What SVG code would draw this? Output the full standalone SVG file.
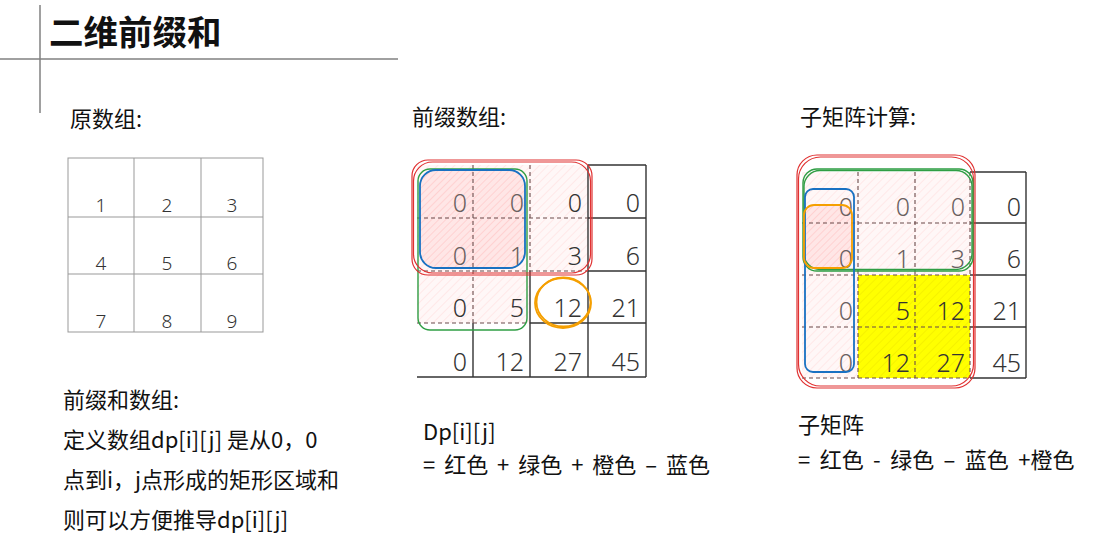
<svg xmlns="http://www.w3.org/2000/svg" width="1120" height="542" viewBox="0 0 1120 542">
<defs>
<pattern id="hatch" width="6" height="6" patternUnits="userSpaceOnUse" patternTransform="rotate(45)">
<rect width="6" height="6" fill="#fff7f7"/>
<line x1="0" y1="0" x2="0" y2="6" stroke="#ffdcdc" stroke-width="1.1"/>
</pattern>
<pattern id="hatch2" width="5" height="5" patternUnits="userSpaceOnUse" patternTransform="rotate(45)">
<rect width="5" height="5" fill="#ffe6e6"/>
<line x1="0" y1="0" x2="0" y2="5" stroke="#ffc9c9" stroke-width="1.4"/>
</pattern>
<pattern id="yhatch" width="6" height="6" patternUnits="userSpaceOnUse" patternTransform="rotate(45)">
<rect width="6" height="6" fill="#ffff00"/>
<line x1="0" y1="0" x2="0" y2="6" stroke="#f0ea00" stroke-width="1.2"/>
</pattern>
</defs>
<style>
.cjk{font-family:"Noto Sans CJK SC","Noto Sans",sans-serif;fill:#111;}
.lbl{font-size:22px;}
.num{font-family:"Noto Sans","Liberation Sans",sans-serif;font-size:25px;font-weight:300;fill:#333;text-anchor:end;}
.dim{fill:#6a5f5f;}
.onum{font-family:"Noto Sans","Liberation Sans",sans-serif;font-size:19px;font-weight:300;fill:#333;text-anchor:middle;}
.g{stroke:#333;stroke-width:1.4;fill:none;}
.d{stroke:#6b4a4a;stroke-width:1.1;stroke-dasharray:4 3;fill:none;}
.og{stroke:#999;stroke-width:1;fill:none;}
.red{stroke:#e03131;stroke-width:1.2;fill:none;}
.grn{stroke:#2f9e44;stroke-width:1.4;fill:none;}
.blu{stroke:#1971c2;stroke-width:1.8;fill:none;}
.org{stroke:#f59f00;stroke-width:1.8;fill:none;}
</style>
<rect width="1120" height="542" fill="#ffffff"/>

<g id="title">
<line x1="0" y1="59" x2="398" y2="59" stroke="#808080" stroke-width="1.5"/>
<line x1="40" y1="5" x2="40" y2="113" stroke="#808080" stroke-width="1.5"/>
<text class="cjk" x="49" y="45" font-size="34.5" font-weight="700">二维前缀和</text>
</g>

<g id="original">
<text class="cjk lbl" x="70" y="127">原数组:</text>
<g class="og">
<rect x="68" y="158" width="195" height="174"/>
<line x1="134" y1="158" x2="134" y2="332"/>
<line x1="201" y1="158" x2="201" y2="332"/>
<line x1="68" y1="217" x2="263" y2="217"/>
<line x1="68" y1="274" x2="263" y2="274"/>
</g>
<text class="onum" x="101" y="212">1</text>
<text class="onum" x="167" y="212">2</text>
<text class="onum" x="232" y="212">3</text>
<text class="onum" x="101" y="270">4</text>
<text class="onum" x="167" y="270">5</text>
<text class="onum" x="232" y="270">6</text>
<text class="onum" x="101" y="328">7</text>
<text class="onum" x="167" y="328">8</text>
<text class="onum" x="232" y="328">9</text>
</g>

<g id="prefix">
<text class="cjk lbl" x="412" y="125">前缀数组:</text>
<path d="M417 165H588V271H530V323H417Z" fill="url(#hatch)"/>
<rect x="420" y="170" width="105" height="98" rx="16" fill="url(#hatch2)"/>
<g class="g">
<line x1="588" y1="165" x2="646" y2="165"/>
<line x1="646" y1="165" x2="646" y2="377"/>
<line x1="417" y1="377" x2="646" y2="377"/>
<line x1="588" y1="165" x2="588" y2="377"/>
<line x1="588" y1="218" x2="646" y2="218"/>
<line x1="588" y1="271" x2="646" y2="271"/>
<line x1="530" y1="323" x2="646" y2="323"/>
<line x1="473" y1="323" x2="473" y2="377"/>
<line x1="530" y1="271" x2="530" y2="377"/>
</g>
<g class="d">
<line x1="473" y1="165" x2="473" y2="323"/>
<line x1="530" y1="165" x2="530" y2="271"/>
<line x1="417" y1="218" x2="588" y2="218"/>
<line x1="417" y1="271" x2="588" y2="271"/>
<line x1="417" y1="323" x2="530" y2="323"/>
</g>
<text class="num dim" x="467" y="212">0</text>
<text class="num dim" x="524" y="212">0</text>
<text class="num" x="582" y="212">0</text>
<text class="num" x="640" y="212">0</text>
<text class="num dim" x="467" y="265">0</text>
<text class="num dim" x="524" y="265">1</text>
<text class="num" x="582" y="265">3</text>
<text class="num" x="640" y="265">6</text>
<text class="num" x="467" y="317">0</text>
<text class="num" x="524" y="317">5</text>
<text class="num" x="582" y="317">12</text>
<text class="num" x="640" y="317">21</text>
<text class="num" x="467" y="371">0</text>
<text class="num" x="524" y="371">12</text>
<text class="num" x="582" y="371">27</text>
<text class="num" x="640" y="371">45</text>
<rect class="grn" x="418" y="169" width="109" height="161" rx="12"/>
<rect class="red" x="412" y="160" width="180" height="115" rx="16"/>
<rect class="red" x="413.5" y="162" width="177" height="111" rx="19"/>
<rect class="blu" x="420" y="170" width="105" height="98" rx="16"/>
<ellipse class="org" cx="563" cy="303" rx="28" ry="25"/>
<ellipse class="org" cx="563.5" cy="302" rx="27" ry="24.5" stroke-width="1"/>
</g>

<g id="submatrix">
<text class="cjk lbl" x="800" y="125">子矩阵计算:</text>
<path d="M802 172H970V275H858V378H802Z" fill="url(#hatch)"/>
<rect x="858" y="275" width="112" height="103" fill="url(#yhatch)"/>
<rect x="804" y="205" width="48" height="63" rx="10" fill="url(#hatch2)"/>
<g class="g">
<line x1="970" y1="172" x2="1026" y2="172"/>
<line x1="1026" y1="172" x2="1026" y2="378"/>
<line x1="970" y1="378" x2="1026" y2="378"/>
<line x1="970" y1="223" x2="1026" y2="223"/>
<line x1="970" y1="275" x2="1026" y2="275"/>
<line x1="970" y1="327" x2="1026" y2="327"/>
</g>
<g class="d">
<line x1="970" y1="172" x2="970" y2="378"/>
<line x1="858" y1="172" x2="858" y2="378"/>
<line x1="915" y1="172" x2="915" y2="378"/>
<line x1="802" y1="223" x2="970" y2="223"/>
<line x1="802" y1="275" x2="970" y2="275"/>
<line x1="802" y1="327" x2="970" y2="327"/>
<line x1="802" y1="378" x2="970" y2="378"/>
</g>
<text class="num dim" x="853" y="216">0</text>
<text class="num dim" x="910" y="216">0</text>
<text class="num dim" x="965" y="216">0</text>
<text class="num" x="1021" y="216">0</text>
<text class="num dim" x="853" y="268">0</text>
<text class="num dim" x="910" y="268">1</text>
<text class="num dim" x="965" y="268">3</text>
<text class="num" x="1021" y="268">6</text>
<text class="num dim" x="853" y="320">0</text>
<text class="num" x="910" y="320">5</text>
<text class="num" x="965" y="320">12</text>
<text class="num" x="1021" y="320">21</text>
<text class="num dim" x="853" y="372">0</text>
<text class="num" x="910" y="372">12</text>
<text class="num" x="965" y="372">27</text>
<text class="num" x="1021" y="372">45</text>
<rect class="red" x="797" y="155" width="178" height="233" rx="20"/>
<rect class="red" x="798.5" y="157" width="175" height="229" rx="22"/>
<rect class="grn" x="803" y="169" width="170" height="102" rx="14"/>
<rect class="grn" x="804" y="170.5" width="168" height="99" rx="16" stroke-width="1"/>
<rect class="blu" x="805" y="189" width="49" height="183" rx="8" stroke-width="1.5"/>
<rect class="org" x="804" y="205" width="48" height="63" rx="10" stroke-width="2.2"/>
</g>

<g id="notes">
<text class="cjk lbl" x="63" y="408">前缀和数组:</text>
<text class="cjk lbl" x="63" y="448">定义数组dp[i][j] 是从0，0</text>
<text class="cjk lbl" x="63" y="488">点到i，j点形成的矩形区域和</text>
<text class="cjk lbl" x="63" y="528">则可以方便推导dp[i][j]</text>
<text class="cjk lbl" x="423" y="440">Dp[i][j]</text>
<text class="cjk lbl" x="423" y="473" word-spacing="4">= 红色 + 绿色 + 橙色 – 蓝色</text>
<text class="cjk lbl" x="798" y="433">子矩阵</text>
<text class="cjk lbl" x="798" y="468" word-spacing="4.5">= 红色 - 绿色 – 蓝色 +橙色</text>
</g>
</svg>
